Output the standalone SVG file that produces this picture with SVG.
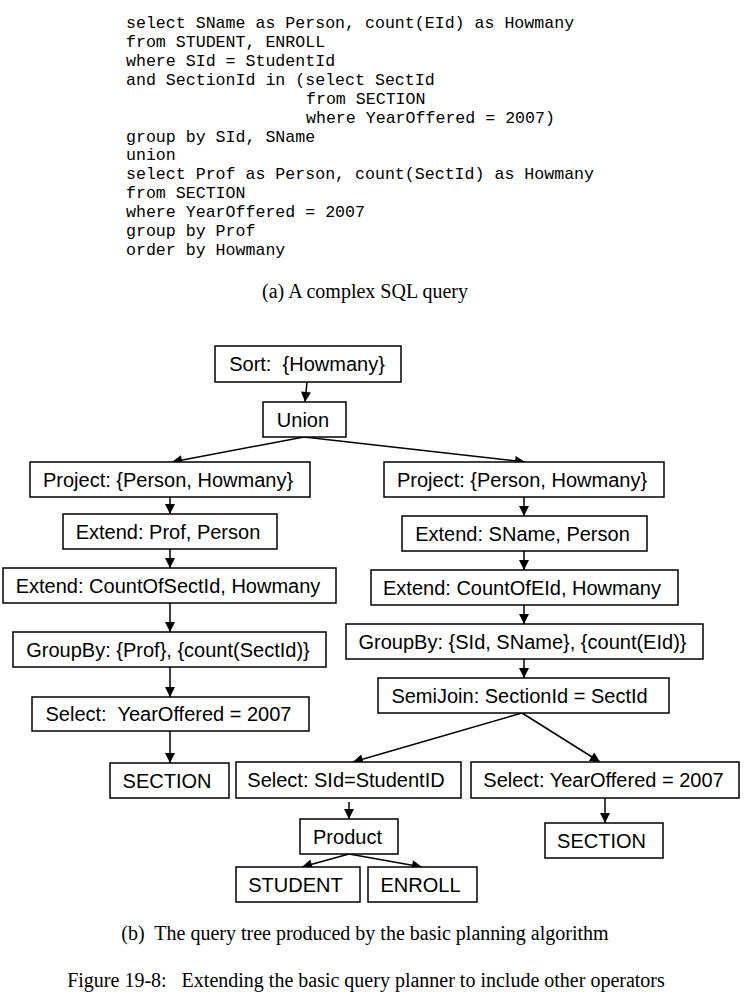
<svg xmlns="http://www.w3.org/2000/svg" width="748" height="994" viewBox="0 0 748 994">
<defs>
<marker id="ah" viewBox="0 0 10 10" refX="10" refY="5" markerWidth="11" markerHeight="10" markerUnits="userSpaceOnUse" orient="auto">
<path d="M0,0 L10,5 L0,10 z" fill="#000"/>
</marker>
<style>
.sql{font-family:"Liberation Mono","Courier New",monospace;font-size:16.6px;fill:#000;white-space:pre}
.cap{font-family:"Liberation Serif","Times New Roman",serif;font-size:20px;fill:#000;text-anchor:middle;white-space:pre}
.box{fill:#fff;stroke:#000;stroke-width:1.5}
.lbl{font-family:"Liberation Sans",Arial,sans-serif;font-size:20px;fill:#000;text-anchor:middle;white-space:pre}
.edge{stroke:#000;stroke-width:1.5;fill:none;marker-end:url(#ah)}
</style>
</defs>
<rect width="748" height="994" fill="#fff"/>
<g id="sql">
<text class="sql" x="126" y="28">select SName as Person, count(EId) as Howmany</text>
<text class="sql" x="126" y="47">from STUDENT, ENROLL</text>
<text class="sql" x="126" y="66">where SId = StudentId</text>
<text class="sql" x="126" y="85">and SectionId in (select SectId</text>
<text class="sql" x="306" y="104">from SECTION</text>
<text class="sql" x="306" y="123">where YearOffered = 2007)</text>
<text class="sql" x="126" y="142">group by SId, SName</text>
<text class="sql" x="126" y="160">union</text>
<text class="sql" x="126" y="179">select Prof as Person, count(SectId) as Howmany</text>
<text class="sql" x="126" y="198">from SECTION</text>
<text class="sql" x="126" y="217">where YearOffered = 2007</text>
<text class="sql" x="126" y="236">group by Prof</text>
<text class="sql" x="126" y="255">order by Howmany</text>
</g>
<text class="cap" x="365" y="298">(a) A complex SQL query</text>
<g id="connectors">
<line class="edge" x1="307" y1="382" x2="305" y2="402"/>
<line class="edge" x1="304" y1="437" x2="172" y2="462"/>
<line class="edge" x1="304" y1="437" x2="525" y2="462"/>
<line class="edge" x1="170" y1="497" x2="170" y2="514"/>
<line class="edge" x1="170" y1="549" x2="170" y2="568"/>
<line class="edge" x1="170" y1="603" x2="170" y2="632"/>
<line class="edge" x1="170" y1="667" x2="170" y2="697"/>
<line class="edge" x1="170" y1="731" x2="170" y2="763"/>
<line class="edge" x1="524" y1="497" x2="524" y2="516"/>
<line class="edge" x1="524" y1="551" x2="524" y2="570"/>
<line class="edge" x1="524" y1="605" x2="524" y2="624"/>
<line class="edge" x1="524" y1="659" x2="524" y2="678"/>
<line class="edge" x1="522" y1="713" x2="353" y2="762"/>
<line class="edge" x1="522" y1="713" x2="600" y2="762"/>
<line class="edge" x1="349" y1="802" x2="349" y2="819"/>
<line class="edge" x1="605" y1="798" x2="605" y2="823"/>
<line class="edge" x1="349" y1="854" x2="302" y2="867"/>
<line class="edge" x1="349" y1="854" x2="422" y2="867"/>
</g>
<g id="sort"><rect class="box" x="215" y="346" width="186" height="36"/><text class="lbl" x="307" y="371">Sort:  {Howmany}</text></g>
<g id="union"><rect class="box" x="263" y="402" width="83" height="35"/><text class="lbl" x="303" y="426.5">Union</text></g>
<g id="l_project"><rect class="box" x="30" y="462" width="280" height="35"/><text class="lbl" x="168" y="486.5">Project: {Person, Howmany}</text></g>
<g id="l_extend1"><rect class="box" x="63" y="514" width="214" height="35"/><text class="lbl" x="168" y="538.5">Extend: Prof, Person</text></g>
<g id="l_extend2"><rect class="box" x="3" y="568" width="333" height="35"/><text class="lbl" x="168" y="592.5">Extend: CountOfSectId, Howmany</text></g>
<g id="l_groupby"><rect class="box" x="13" y="632" width="313" height="35"/><text class="lbl" x="168" y="656.5">GroupBy: {Prof}, {count(SectId)}</text></g>
<g id="l_select"><rect class="box" x="32" y="697" width="277" height="34"/><text class="lbl" x="168.5" y="721">Select:  YearOffered = 2007</text></g>
<g id="l_section"><rect class="box" x="110" y="763" width="119" height="35"/><text class="lbl" x="167" y="787.5">SECTION</text></g>
<g id="r_project"><rect class="box" x="384" y="462" width="280" height="35"/><text class="lbl" x="522" y="486.5">Project: {Person, Howmany}</text></g>
<g id="r_extend1"><rect class="box" x="402" y="516" width="245" height="35"/><text class="lbl" x="522.5" y="540.5">Extend: SName, Person</text></g>
<g id="r_extend2"><rect class="box" x="371" y="570" width="307" height="35"/><text class="lbl" x="522" y="594.5">Extend: CountOfEId, Howmany</text></g>
<g id="r_groupby"><rect class="box" x="346" y="624" width="357" height="35"/><text class="lbl" x="522.5" y="648.5">GroupBy: {SId, SName}, {count(EId)}</text></g>
<g id="semijoin"><rect class="box" x="378" y="678" width="291" height="35"/><text class="lbl" x="519.5" y="702.5">SemiJoin: SectionId = SectId</text></g>
<g id="select_sid"><rect class="box" x="236" y="762" width="225" height="36"/><text class="lbl" x="346" y="787">Select: SId=StudentID</text></g>
<g id="r_select"><rect class="box" x="471" y="762" width="268" height="36"/><text class="lbl" x="603.5" y="787">Select: YearOffered = 2007</text></g>
<g id="product"><rect class="box" x="300" y="819" width="98" height="35"/><text class="lbl" x="347.5" y="843.5">Product</text></g>
<g id="r_section"><rect class="box" x="545" y="823" width="118" height="35"/><text class="lbl" x="601.5" y="847.5">SECTION</text></g>
<g id="student"><rect class="box" x="236" y="867" width="124" height="35"/><text class="lbl" x="295.5" y="891.5">STUDENT</text></g>
<g id="enroll"><rect class="box" x="368" y="867" width="109" height="35"/><text class="lbl" x="420.5" y="891.5">ENROLL</text></g>
<text class="cap" x="365" y="940">(b)  The query tree produced by the basic planning algorithm</text>
<text class="cap" x="366" y="987">Figure 19-8:   Extending the basic query planner to include other operators</text>
</svg>
